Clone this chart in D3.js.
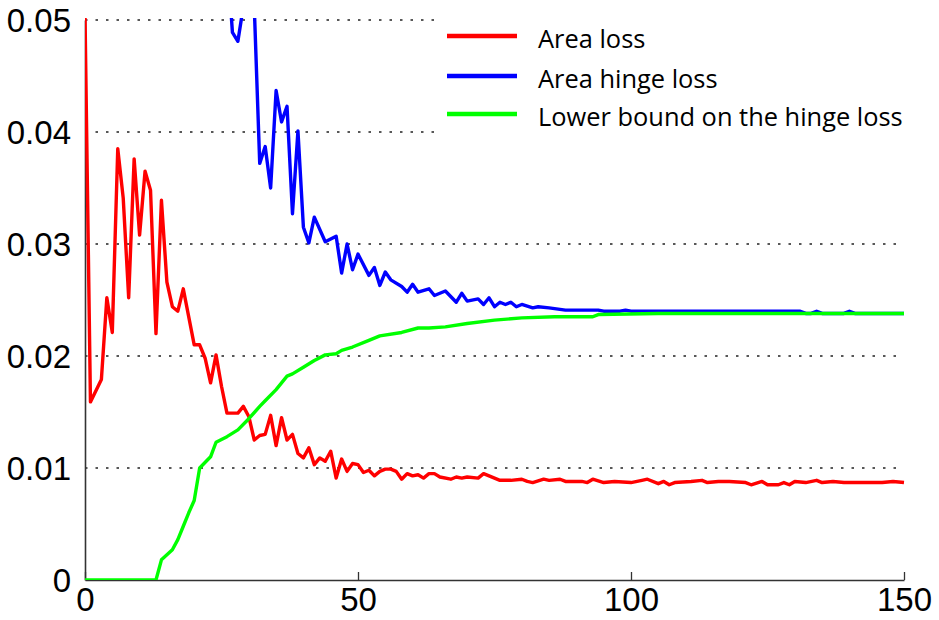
<!DOCTYPE html>
<html>
<head>
<meta charset="utf-8">
<script src="https://cdn.jsdelivr.net/npm/d3@7"></script>
<style>
  body { margin: 0; background: #fff; }
  svg { display: block; }
</style>
</head>
<body>
<div id="chart"></div>
<script>
// Data: [iteration, loss]

var xTicks = [0, 50, 100, 150];
var yTicks = [0, 0.01, 0.02, 0.03, 0.04, 0.05];
var yTickLabels = ["0", "0.01", "0.02", "0.03", "0.04", "0.05"];
var seriesNames = ["Area loss", "Area hinge loss", "Lower bound on the hinge loss"];
var seriesColors = ["#ff0000", "#0000ff", "#00ff00"];

var areaLoss = [
    [0, 0.0505], [1, 0.0159], [3, 0.0179], [4, 0.0252], [5, 0.0221], [6, 0.0385],
    [7, 0.0341], [8, 0.0252], [9, 0.0376], [10, 0.0308], [11, 0.0365], [12, 0.0348],
    [13, 0.0220], [14, 0.0339], [15, 0.0266], [16, 0.0244], [17, 0.0240], [18, 0.0260],
    [20, 0.0210], [21, 0.0210], [22, 0.0198], [23, 0.0176], [24, 0.0201], [25, 0.0173],
    [26, 0.0149], [28, 0.0149], [29, 0.0155], [30, 0.0146], [31, 0.0125], [32, 0.0129],
    [33, 0.0130], [34, 0.0147], [35, 0.0120], [36, 0.0145], [37, 0.0125], [38, 0.0130],
    [39, 0.0113], [40, 0.0109], [41, 0.0118], [42, 0.0103], [43, 0.0109], [44, 0.0106],
    [45, 0.0115], [46, 0.0091], [47, 0.0108], [48, 0.0097], [49, 0.0104], [50, 0.0103],
    [51, 0.0096], [52, 0.0098], [53, 0.0093], [54, 0.0097], [55, 0.0099], [56, 0.0099],
    [57, 0.0097], [58, 0.0090], [59, 0.0095], [60, 0.0093], [61, 0.0094], [62, 0.0091],
    [63, 0.0095], [64, 0.0095], [65, 0.0092], [67, 0.0090], [68, 0.0092], [69, 0.0091],
    [70, 0.0092], [72, 0.0091], [73, 0.0095], [74, 0.0093], [76, 0.0089], [78, 0.0089],
    [80, 0.0090], [81, 0.0088], [82, 0.0087], [84, 0.0090], [85, 0.0089], [87, 0.0090],
    [88, 0.0088], [91, 0.0088], [92, 0.0087], [93, 0.0090], [95, 0.0087], [97, 0.0088],
    [100, 0.0087], [102, 0.0089], [103, 0.0090], [105, 0.0086], [106, 0.0088], [107, 0.0085],
    [108, 0.0087], [111, 0.0088], [113, 0.0089], [114, 0.0087], [116, 0.0088], [118, 0.0088],
    [121, 0.0087], [122, 0.0085], [124, 0.0088], [125, 0.0085], [127, 0.0085], [128, 0.0087],
    [129, 0.0085], [130, 0.0088], [132, 0.0087], [134, 0.0089], [135, 0.0087], [137, 0.0088],
    [139, 0.0087], [141, 0.0087], [144, 0.0087], [146, 0.0087], [148, 0.0088], [150, 0.0087]
];

var hingeLoss = [
    [25, 0.0600], [26, 0.0560], [27, 0.0489], [28, 0.0481], [29, 0.0512], [30, 0.0520],
    [31, 0.0512], [32, 0.0372], [33, 0.0387], [34, 0.0350], [35, 0.0437], [36, 0.0409],
    [37, 0.0423], [38, 0.0327], [39, 0.0401], [40, 0.0315], [41, 0.0301], [42, 0.0324],
    [44, 0.0302], [46, 0.0307], [47, 0.0274], [48, 0.0300], [49, 0.0277], [50, 0.0291],
    [52, 0.0272], [53, 0.0279], [54, 0.0263], [55, 0.0275], [56, 0.0268], [58, 0.0262],
    [59, 0.0257], [60, 0.0264], [61, 0.0257], [63, 0.0260], [64, 0.0254], [66, 0.0258],
    [68, 0.0248], [69, 0.0256], [70, 0.0249], [72, 0.0251], [73, 0.0246], [74, 0.0252],
    [75, 0.0244], [76, 0.0248], [77, 0.0246], [78, 0.0248], [79, 0.0244], [80, 0.0246],
    [82, 0.0243], [83, 0.0244], [85, 0.0243], [88, 0.0241], [94, 0.0241], [95, 0.0240],
    [98, 0.0240], [99, 0.0241], [100, 0.0240], [105, 0.0240], [120, 0.0240], [131, 0.0240],
    [132, 0.0238], [133, 0.0238], [134, 0.0240], [135, 0.0238], [139, 0.0238], [140, 0.0240],
    [141, 0.0238], [150, 0.0238]
];

var lowerBound = [
    [0, 0], [13, 0], [14, 0.0018], [16, 0.0027], [17, 0.0036], [18, 0.0048],
    [19, 0.0060], [20, 0.0071], [21, 0.0100], [23, 0.0110], [24, 0.0123], [26, 0.0128],
    [28, 0.0134], [30, 0.0144], [32, 0.0155], [33, 0.0160], [35, 0.0170], [37, 0.0182],
    [38, 0.0184], [40, 0.0190], [42, 0.0196], [44, 0.0201], [46, 0.0202], [47, 0.0205],
    [49, 0.0208], [52, 0.0214], [54, 0.0218], [58, 0.0221], [61, 0.0225], [63, 0.0225],
    [66, 0.0226], [70, 0.0229], [75, 0.0232], [80, 0.0234], [86, 0.0235], [93, 0.0235],
    [94, 0.0237], [105, 0.0238], [150, 0.0238]
];

var allSeries = [areaLoss, hingeLoss, lowerBound];

// Layout

var width = 939, height = 620;
var margin = { left: 85, right: 35, top: 20, bottom: 40 };
var plotW = width - margin.left - margin.right;
var plotH = height - margin.top - margin.bottom;

var svg = d3.select("#chart").append("svg")
    .attr("width", width)
    .attr("height", height);

var x = d3.scaleLinear().domain([0, 150]).range([margin.left, margin.left + plotW]);
var y = d3.scaleLinear().domain([0, 0.05]).range([margin.top + plotH, margin.top]);

svg.append("clipPath").attr("id", "plot-clip")
  .append("rect")
    .attr("x", margin.left)
    .attr("y", margin.top - 2)
    .attr("width", plotW + 2)
    .attr("height", plotH + 2);

// dotted grid
svg.append("g")
    .selectAll("line")
    .data(yTicks.slice(1))
    .enter().append("line")
    .attr("x1", x(0))
    .attr("x2", x(150))
    .attr("y1", function(d) { return y(d); })
    .attr("y2", function(d) { return y(d); })
    .attr("stroke", "#222")
    .attr("stroke-width", 1.4)
    .attr("stroke-dasharray", "2.5,8");

// axes (MATLAB style: ticks pointing inward)
var xAxis = d3.axisBottom(x).tickValues(xTicks).tickSize(-8).tickPadding(15).tickSizeOuter(0);
var gx = svg.append("g")
    .attr("transform", "translate(0," + y(0) + ")")
    .call(xAxis);

var yAxis = d3.axisLeft(y).tickValues(yTicks)
    .tickFormat(function(d, i) { return yTickLabels[i]; })
    .tickSize(0).tickPadding(14).tickSizeOuter(0);
var gy = svg.append("g")
    .attr("transform", "translate(" + x(0) + ",0)")
    .call(yAxis);

svg.selectAll(".domain").attr("stroke", "#333").attr("stroke-width", 1.6);
svg.selectAll(".tick line").attr("stroke", "#333").attr("stroke-width", 1.3);
svg.selectAll(".tick text")
    .attr("font-family", "'Liberation Sans', Arial, sans-serif")
    .attr("font-size", 33)
    .attr("fill", "#000");
gx.selectAll(".tick text").attr("dy", "0.71em").attr("y", 8);
gy.selectAll(".tick text").attr("dy", "0.36em");

// loss curves
var line = d3.line()
    .x(function(d) { return x(d[0]); })
    .y(function(d) { return y(d[1]); });

svg.append("g")
    .attr("clip-path", "url(#plot-clip)")
    .selectAll("path")
    .data(allSeries)
    .enter().append("path")
    .attr("d", line)
    .attr("fill", "none")
    .attr("stroke", function(d, i) { return seriesColors[i]; })
    .attr("stroke-width", 3.4)
    .attr("stroke-linejoin", "round");

// legend box covers the grid behind it
var legend = svg.append("g");
legend.append("rect")
    .attr("x", 437).attr("y", 8)
    .attr("width", 498).attr("height", 128)
    .attr("fill", "#fff");

var rowY = [36, 76, 114];
var rows = legend.selectAll("g.row")
    .data(seriesNames)
    .enter().append("g")
    .attr("class", "row");

rows.append("line")
    .attr("x1", 447).attr("x2", 517)
    .attr("y1", function(d, i) { return rowY[i]; })
    .attr("y2", function(d, i) { return rowY[i]; })
    .attr("stroke", function(d, i) { return seriesColors[i]; })
    .attr("stroke-width", 4.5);

var labels = rows.append("text")
    .attr("x", 538)
    .attr("y", function(d, i) { return rowY[i] + 12; })
    .attr("font-family", "'Open Sans', sans-serif")
    .attr("font-size", 24)
    .attr("fill", "#000")
    .text(function(d) { return d; });

// fit the longest label to the width it has in the picture
var longest = d3.max(labels.nodes(), function(n) { return n.getComputedTextLength(); });
labels.attr("font-size", 24 * 365 / longest);
</script>
</body>
</html>
